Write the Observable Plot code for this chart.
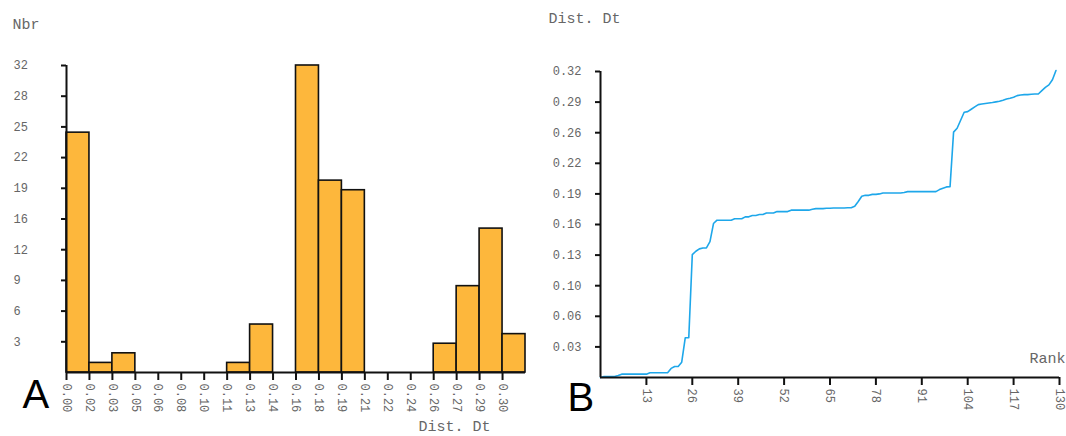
<!DOCTYPE html>
<html><head><meta charset="utf-8">
<script src="https://cdn.jsdelivr.net/npm/d3@7"></script>
<script src="https://cdn.jsdelivr.net/npm/@observablehq/plot@0.6"></script>
<style>
html,body{margin:0;padding:0;background:#fff;}
#wrap{position:relative;width:1066px;height:436px;overflow:hidden;}
#wrap svg{position:absolute;top:0;}
</style></head><body><div id="wrap"></div>
<script>
// Panel A: histogram of Dist. Dt
const binStart = [0.000,0.016,0.032,0.048,0.064,0.080,0.096,0.112,0.128,0.144,0.160,0.176,0.192,0.208,0.224,0.240,0.256,0.272,0.288,0.304];
const binEnd   = [0.016,0.032,0.048,0.064,0.080,0.096,0.112,0.128,0.144,0.160,0.176,0.192,0.208,0.224,0.240,0.256,0.272,0.288,0.304,0.320];
const counts   = [25,1,2,0,0,0,0,1,5,0,32,20,19,0,0,0,3,9,15,4];
const yTicksA  = [3.2,6.4,9.6,12.8,16,19.2,22.4,25.6,28.8,32];
const yLabelsA = ["3","6","9","12","16","19","22","25","28","32"];
const xTicksA  = binStart;
const xLabelsA = ["0.00","0.02","0.03","0.05","0.06","0.08","0.10","0.11","0.13","0.14","0.16","0.18","0.19","0.21","0.22","0.24","0.26","0.27","0.29","0.30"];

// Panel B: sorted Dist. Dt by rank
const distances = [
0.000,0.001,0.001,0.001,0.001,0.002,0.0035,0.0035,0.0035,0.0035,
0.0035,0.0035,0.0035,0.0035,0.005,0.005,0.005,0.005,0.005,0.005,
0.0095,0.0115,0.0115,0.016,0.0415,0.0415,0.1285,0.132,0.1345,0.1355,
0.1355,0.142,0.161,0.1645,0.1645,0.1645,0.1645,0.1645,0.166,0.166,
0.166,0.168,0.168,0.1694,0.1694,0.1704,0.1704,0.172,0.172,0.172,
0.1735,0.1735,0.1735,0.1735,0.175,0.175,0.175,0.175,0.175,0.175,
0.176,0.1766,0.1766,0.1766,0.177,0.177,0.1773,0.1773,0.1773,0.1773,
0.1775,0.1775,0.179,0.184,0.1895,0.1905,0.1905,0.1915,0.1915,0.192,
0.193,0.193,0.193,0.193,0.193,0.193,0.1935,0.1944,0.1944,0.1944,
0.1944,0.1944,0.1944,0.1944,0.1944,0.1944,0.1965,0.198,0.1993,0.1996,
0.2566,0.2607,0.269,0.2774,0.278,0.2805,0.283,0.2854,0.286,0.2865,
0.287,0.2875,0.2882,0.2888,0.29,0.2913,0.292,0.293,0.2948,0.2955,
0.2958,0.2958,0.2962,0.2965,0.2965,0.300,0.3034,0.306,0.3114,0.321];
const yTicksB  = [0.032,0.064,0.096,0.128,0.16,0.192,0.224,0.256,0.288,0.32];
const yLabelsB = ["0.03","0.06","0.10","0.13","0.16","0.19","0.22","0.26","0.29","0.32"];
const xTicksB  = [13,26,39,52,65,78,91,104,117,130];
const xLabelsB = ["13","26","39","52","65","78","91","104","117","130"];

const mono = "'Liberation Mono', 'Courier New', monospace";
const sans = "'Liberation Sans', Arial, sans-serif";
const grey = "#666";

const bins = binStart.map((s, i) => ({x0: s, x1: binEnd[i], n: counts[i]})).filter(d => d.n > 0);

const left = Plot.plot({
  width: 533, height: 436,
  marginLeft: 66, marginRight: 8, marginTop: 65, marginBottom: 64,
  style: {fontFamily: mono, fontSize: "12px", background: "transparent", overflow: "visible"},
  x: {domain: [0, 0.32]},
  y: {domain: [0, 32]},
  marks: [
    Plot.rectY(bins, {x1: "x0", x2: "x1", y: "n", fill: "#fdb73c", stroke: "#111", strokeWidth: 1.6}),
    Plot.ruleX([0], {stroke: "#111", strokeWidth: 2}),
    Plot.ruleY([0], {stroke: "#111", strokeWidth: 2}),
    // tick marks only
    Plot.axisY({ticks: yTicksA, tickFormat: () => "", tickSize: 5, stroke: "#111", label: null, strokeWidth: 2}),
    // tick labels only, left-aligned
    Plot.axisY({ticks: yTicksA, tickFormat: d => yLabelsA[yTicksA.indexOf(d)], tickSize: 0, tickPadding: 53,
      textAnchor: "start", fill: grey, label: null}),
    Plot.axisX({ticks: xTicksA, tickFormat: d => xLabelsA[xTicksA.indexOf(d)], tickSize: 8, tickPadding: 3,
      tickRotate: 90, stroke: "#111", fill: grey, label: null, strokeWidth: 2}),
    Plot.text(["Nbr"], {frameAnchor: "top-left", dx: -54, dy: -41, textAnchor: "start", lineAnchor: "middle",
      fontSize: 15, fontFamily: mono, fill: grey}),
    Plot.text(["Dist. Dt"], {frameAnchor: "bottom-left", dx: 352, dy: 54, textAnchor: "start", lineAnchor: "middle",
      fontSize: 15, fontFamily: mono, fill: grey}),
    Plot.text(["A"], {frameAnchor: "bottom-left", dx: -44, dy: 23, textAnchor: "start", lineAnchor: "middle",
      fontSize: 40, fontFamily: sans, fill: "#000"})
  ]
});
left.style.left = "0px";

const right = Plot.plot({
  width: 533, height: 436,
  marginLeft: 67, marginRight: 7, marginTop: 71, marginBottom: 59,
  style: {fontFamily: mono, fontSize: "12px", background: "transparent", overflow: "visible"},
  x: {domain: [0, 130]},
  y: {domain: [0, 0.32]},
  marks: [
    Plot.line(distances, {x: (d, i) => i, y: d => d, stroke: "#1ea7ea", strokeWidth: 1.6}),
    Plot.ruleX([0], {stroke: "#111", strokeWidth: 2}),
    Plot.ruleY([0], {stroke: "#111", strokeWidth: 2}),
    Plot.axisY({ticks: yTicksB, tickFormat: () => "", tickSize: 5, stroke: "#111", label: null, strokeWidth: 2}),
    Plot.axisY({ticks: yTicksB, tickFormat: d => yLabelsB[yTicksB.indexOf(d)], tickSize: 0, tickPadding: 19,
      fill: grey, label: null}),
    Plot.axisX({ticks: xTicksB, tickFormat: d => xLabelsB[xTicksB.indexOf(d)], tickSize: 8, tickPadding: 3,
      tickRotate: 90, stroke: "#111", fill: grey, label: null, strokeWidth: 2}),
    Plot.text(["Dist. Dt"], {frameAnchor: "top-left", dx: -52, dy: -53, textAnchor: "start", lineAnchor: "middle",
      fontSize: 15, fontFamily: mono, fill: grey}),
    Plot.text(["Rank"], {frameAnchor: "bottom-right", dx: 6, dy: -19, textAnchor: "end", lineAnchor: "middle",
      fontSize: 15, fontFamily: mono, fill: grey}),
    Plot.text(["B"], {frameAnchor: "bottom-left", dx: -33, dy: 21, textAnchor: "start", lineAnchor: "middle",
      fontSize: 40, fontFamily: sans, fill: "#000"})
  ]
});
right.style.left = "533px";

const wrap = document.getElementById("wrap");
wrap.appendChild(left);
wrap.appendChild(right);
</script></body></html>
